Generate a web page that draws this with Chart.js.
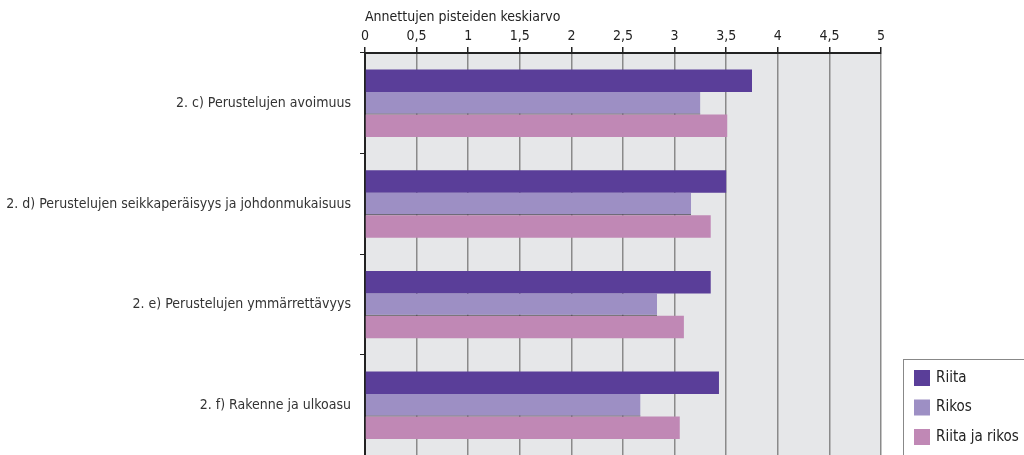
<!DOCTYPE html>
<html>
<head>
<meta charset="utf-8">
<script src="https://cdn.jsdelivr.net/npm/chart.js@4"></script>
<style>
  html, body { margin: 0; padding: 0; background: #fff; overflow: hidden; }
  #wrap { width: 1024px; height: 455px; overflow: hidden; }
</style>
</head>
<body>
<div id="wrap"><canvas id="chart" width="1024" height="473"></canvas></div>
<script>
const categories = [
  '2. c) Perustelujen avoimuus',
  '2. d) Perustelujen seikkaperäisyys ja johdonmukaisuus',
  '2. e) Perustelujen ymmärrettävyys',
  '2. f) Rakenne ja ulkoasu'
];
const riita = [3.75, 3.5, 3.35, 3.43];
const rikos = [3.25, 3.16, 2.83, 2.67];
const riitaJaRikos = [3.51, 3.35, 3.09, 3.05];
const seriesNames = ['Riita', 'Rikos', 'Riita ja rikos'];
const seriesColors = ['#5a3e99', '#9d8fc4', '#c088b5'];
const axisTitle = 'Annettujen pisteiden keskiarvo';

const fontFamily = "'Liberation Sans Narrow', 'DejaVu Sans Condensed', 'Roboto Condensed', sans-serif";
Chart.defaults.font.family = fontFamily;
Chart.defaults.color = '#333';

// harmaa tausta piirtoalueelle
const plotBackground = {
  id: 'plotBackground',
  beforeDraw(chart) {
    const { ctx, chartArea: a } = chart;
    ctx.save();
    ctx.fillStyle = '#e6e7e9';
    ctx.fillRect(a.left, a.top, a.right - a.left, a.bottom - a.top);
    ctx.restore();
  }
};

// selite oikeaan alakulmaan laatikkoon
const boxLegend = {
  id: 'boxLegend',
  afterDraw(chart) {
    const ctx = chart.ctx;
    ctx.save();
    ctx.strokeStyle = '#888';
    ctx.lineWidth = 1;
    ctx.strokeRect(903.5, 359.5, 140, 130);
    ctx.font = '15px ' + fontFamily;
    ctx.textBaseline = 'middle';
    chart.data.datasets.forEach((ds, i) => {
      const y = 370 + i * 29.5;
      ctx.fillStyle = ds.backgroundColor;
      ctx.fillRect(914, y, 16, 16);
      ctx.fillStyle = '#222';
      ctx.fillText(ds.label, 936, y + 8);
    });
    ctx.restore();
  }
};

new Chart(document.getElementById('chart'), {
  type: 'bar',
  data: {
    labels: categories,
    datasets: [riita, rikos, riitaJaRikos].map((d, i) => ({
      label: seriesNames[i],
      data: d,
      backgroundColor: seriesColors[i],
      borderColor: '#333',
      borderWidth: i === 1 ? { top: 0, left: 0, right: 0, bottom: 1 } : 0,
      borderSkipped: false,
      categoryPercentage: 0.67,
      barPercentage: 1
    }))
  },
  options: {
    indexAxis: 'y',
    responsive: false,
    animation: false,
    layout: { padding: { right: 143, bottom: 0, top: 0, left: 0 } },
    plugins: {
      legend: { display: false },
      tooltip: { enabled: false }
    },
    scales: {
      x: {
        position: 'top',
        min: 0,
        max: 5,
        afterFit: scale => { scale.height = 53; },
        ticks: {
          stepSize: 0.5,
          padding: 2,
          color: '#222',
          font: { size: 14 },
          callback: v => String(v).replace('.', ',')
        },
        grid: {
          color: '#8a8a8a',
          lineWidth: 1.5,
          tickColor: '#222',
          tickLength: 6
        },
        border: { color: '#222', width: 2 },
        title: {
          display: true,
          text: axisTitle,
          align: 'start',
          color: '#222',
          font: { size: 14 },
          padding: { top: 9, bottom: 0 }
        }
      },
      y: {
        afterFit: scale => { scale.width = 365; },
        ticks: {
          padding: 9,
          color: '#333',
          font: { size: 14 }
        },
        grid: {
          drawOnChartArea: false,
          tickColor: '#222',
          tickLength: 5
        },
        border: { color: '#222', width: 2 }
      }
    }
  },
  plugins: [plotBackground, boxLegend]
});
</script>
</body>
</html>
